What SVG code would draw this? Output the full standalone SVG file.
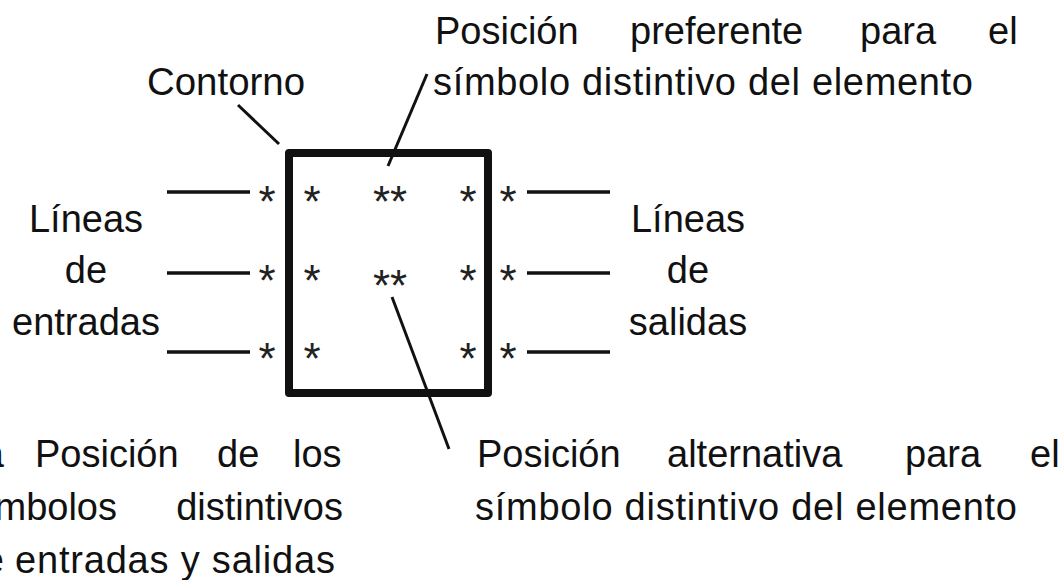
<svg xmlns="http://www.w3.org/2000/svg" width="1064" height="580" viewBox="0 0 1064 580">
<style>
.t{font-family:"Liberation Sans",Arial,sans-serif;font-size:38px;fill:#111}
.s{font-family:"Liberation Sans",Arial,sans-serif;font-size:44px;fill:#222;text-anchor:middle}
.ln{stroke:#111;stroke-width:3.5;fill:none}
.ld{stroke:#111;stroke-width:3;fill:none}
</style>
<rect width="1064" height="580" fill="#fff"/>
<g id="elemento">
<rect x="289" y="153" width="199" height="240" fill="none" stroke="#111" stroke-width="8" stroke-linejoin="round"/>
<text class="s" x="312" y="217">*</text>
<text class="s" x="312" y="296">*</text>
<text class="s" x="312" y="374">*</text>
<text class="s" x="390" y="217">**</text>
<text class="s" x="390" y="301">**</text>
<text class="s" x="468" y="217">*</text>
<text class="s" x="468" y="296">*</text>
<text class="s" x="468" y="374">*</text>
</g>
<g id="entradas">
<line class="ln" x1="167" y1="192" x2="250" y2="192"/>
<line class="ln" x1="167" y1="273" x2="250" y2="273"/>
<line class="ln" x1="167" y1="352" x2="250" y2="352"/>
<text class="s" x="267" y="217">*</text>
<text class="s" x="267" y="296">*</text>
<text class="s" x="267" y="374">*</text>
<text class="t" text-anchor="middle"><tspan x="86" y="232">Líneas</tspan><tspan x="86" y="283">de</tspan><tspan x="86" y="335">entradas</tspan></text>
</g>
<g id="salidas">
<line class="ln" x1="527" y1="192" x2="610" y2="192"/>
<line class="ln" x1="527" y1="273" x2="610" y2="273"/>
<line class="ln" x1="527" y1="352" x2="610" y2="352"/>
<text class="s" x="508" y="217">*</text>
<text class="s" x="508" y="296">*</text>
<text class="s" x="508" y="374">*</text>
<text class="t" text-anchor="middle"><tspan x="688" y="232">Líneas</tspan><tspan x="688" y="283">de</tspan><tspan x="688" y="335">salidas</tspan></text>
</g>
<g id="contorno">
<text class="t" x="147" y="95" textLength="158" lengthAdjust="spacingAndGlyphs">Contorno</text>
</g>
<g id="preferente">
<text class="t" y="44"><tspan x="435">Posición</tspan><tspan x="630">preferente</tspan><tspan x="860">para</tspan><tspan x="988">el</tspan></text>
<text class="t" x="433" y="95" textLength="540">símbolo distintivo del elemento</text>
</g>
<g id="alternativa">
<text class="t" y="467"><tspan x="477">Posición</tspan><tspan x="667">alternativa</tspan><tspan x="905">para</tspan><tspan x="1030">el</tspan></text>
<text class="t" x="475" y="520" textLength="542">símbolo distintivo del elemento</text>
</g>
<g id="simbolos">
<text class="t" x="4" y="467" text-anchor="end">a</text>
<text class="t" y="467"><tspan x="35">Posición</tspan><tspan x="217">de</tspan><tspan x="293">los</tspan></text>
<text class="t" x="117" y="520" text-anchor="end">símbolos</text>
<text class="t" x="343" y="520" text-anchor="end">distintivos</text>
<text class="t" x="4" y="573" text-anchor="end">de</text>
<text class="t" x="15" y="573" textLength="320">entradas y salidas</text>
</g>
<g id="conectores">
<line class="ld" x1="238" y1="105" x2="279" y2="144"/>
<line class="ld" x1="427" y1="74" x2="388" y2="166"/>
<line class="ld" x1="392" y1="297" x2="449" y2="449"/>
</g>
</svg>
